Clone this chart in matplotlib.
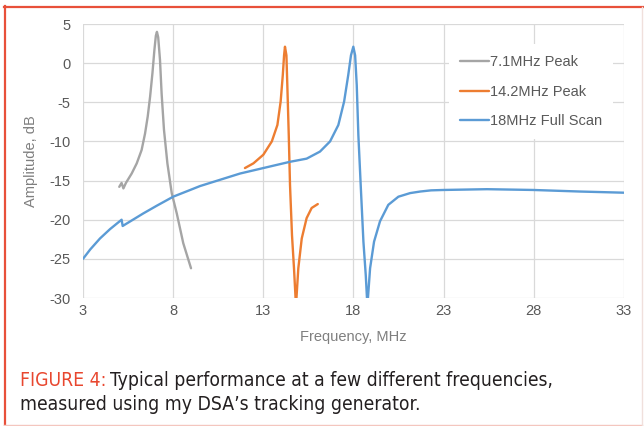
import matplotlib
matplotlib.use("Agg")
import matplotlib.pyplot as plt
from matplotlib.lines import Line2D

# ---- data ----
gray_x = [5.01, 5.14, 5.24, 5.38, 5.70, 5.98, 6.25, 6.44, 6.59, 6.72, 6.85, 6.96,
          7.04, 7.10, 7.17, 7.27, 7.36, 7.49, 7.68, 7.92, 8.20, 8.56, 8.99]
gray_y = [-15.8, -15.3, -16.0, -15.3, -14.1, -12.8, -11.1, -9.0, -6.8, -4.3, -1.3, 1.7,
          3.5, 4.0, 3.3, 0.4, -3.9, -8.5, -12.8, -16.6, -19.2, -23.0, -26.2]

orange_x = [11.98, 12.45, 13.00, 13.47, 13.78, 13.96, 14.08, 14.15, 14.20, 14.28,
            14.33, 14.41, 14.48, 14.59, 14.70, 14.81, 14.94, 15.13, 15.40, 15.68, 16.02]
orange_y = [-13.4, -12.8, -11.7, -10.0, -7.9, -4.9, -1.5, 1.0, 2.1, 1.0,
            -2.8, -9.2, -15.6, -22.0, -26.2, -31.0, -26.2, -22.4, -19.8, -18.5, -18.0]

blue_x = [3.00, 3.40, 3.94, 4.50, 5.14, 5.20, 6.34, 7.10, 8.01, 9.00, 9.49, 10.60, 11.71, 13.00,
          14.48, 15.40, 16.14, 16.70, 17.16, 17.48, 17.71, 17.86, 17.99, 18.09,
          18.18, 18.27, 18.40, 18.55, 18.68, 18.77, 18.92, 19.14, 19.47, 19.93,
          20.49, 21.14, 21.70, 22.30, 23.00, 25.40, 27.96, 30.56, 33.00]
blue_y = [-25.0, -23.8, -22.4, -21.2, -20.0, -20.8, -19.2, -18.2, -17.05, -16.15, -15.7, -14.9, -14.1, -13.4,
          -12.6, -12.2, -11.3, -10.0, -7.9, -4.9, -1.5, 1.0, 2.1, 1.0,
          -2.8, -9.2, -15.6, -22.8, -27.1, -31.0, -26.2, -22.8, -20.2, -18.1,
          -17.06, -16.6, -16.4, -16.25, -16.2, -16.1, -16.2, -16.4, -16.55]

series_labels = ["7.1MHz Peak", "14.2MHz Peak", "18MHz Full Scan"]
x_ticks = [3, 8, 13, 18, 23, 28, 33]
y_ticks = [5, 0, -5, -10, -15, -20, -25, -30]

W, H = 644, 426
plt.rcParams["font.family"] = ["Liberation Sans", "DejaVu Sans"]
plt.rcParams["axes.unicode_minus"] = False
fig = plt.figure(figsize=(W / 100, H / 100), dpi=100)
fig.patch.set_facecolor("white")

ax = fig.add_axes([83 / W, 1 - 298 / H, (624 - 83) / W, (298 - 24) / H])
ax.set_facecolor("white")

lw = 1.7
kw = dict(lw=lw, solid_capstyle="round", solid_joinstyle="round")
ax.plot(gray_x, gray_y, color="#A5A5A5", label=series_labels[0], **kw)
ax.plot(orange_x, orange_y, color="#ED7D31", label=series_labels[1], **kw)
ax.plot(blue_x, blue_y, color="#5B9BD5", label=series_labels[2], **kw)

ax.set_xlim(3, 33)
ax.set_ylim(-30, 5)
ax.set_xticks(x_ticks)
ax.set_yticks(y_ticks)
ax.grid(True, color="#D9D9D9", lw=0.9)
ax.set_axisbelow(True)
for s in ax.spines.values():
    s.set_visible(False)
ax.tick_params(length=0, labelsize=10.5, labelcolor="#595959")
ax.tick_params(axis="y", pad=9)
ax.tick_params(axis="x", pad=4)

ax.set_xlabel("Frequency, MHz", fontsize=10.5, color="#7F7F7F", labelpad=9)
ax.set_ylabel("Amplitude, dB", fontsize=10.5, color="#7F7F7F", labelpad=8)

leg = ax.legend(loc="upper left", bbox_to_anchor=(449 / W, 1 - 44 / H),
                bbox_transform=fig.transFigure, borderaxespad=0,
                frameon=True, facecolor="white", edgecolor="none", framealpha=1,
                fontsize=10.5, handlelength=2.0, handletextpad=0.05,
                labelspacing=1.08, borderpad=0.75)
for t in leg.get_texts():
    t.set_color("#595959")
leg.get_frame().set_boxstyle("square", pad=0)

# caption
cap = dict(fontsize=13.9, family=["DejaVu Sans"], stretch="condensed", va="center", ha="left")
t1 = fig.text(20 / W, 1 - 381 / H, "FIGURE 4:", color="#E8472F", **cap)
fig.canvas.draw()
bb = t1.get_window_extent()
fig.text((bb.x1 + 4) / W, 1 - 381 / H, "Typical performance at a few different frequencies,",
         color="#231F20", **cap)
fig.text(20 / W, 1 - 405 / H, "measured using my DSA\u2019s tracking generator.",
         color="#231F20", **cap)

# border
fig.add_artist(Line2D([4.5 / W, 4.5 / W], [1 - 6 / H, 1 - 425 / H], color="#E8503A", lw=1.6,
                      transform=fig.transFigure))
fig.add_artist(Line2D([4 / W, 644 / W], [1 - 6.5 / H, 1 - 6.5 / H], color="#E8503A", lw=1.6,
                      transform=fig.transFigure))
fig.add_artist(Line2D([4 / W, 642 / W], [1 - 424.5 / H, 1 - 424.5 / H], color="#F4C6BE", lw=1.0,
                      transform=fig.transFigure))
fig.add_artist(Line2D([642 / W, 642 / W], [1 - 6.5 / H, 1 - 424.5 / H], color="#F0E0DC", lw=1.0,
                      transform=fig.transFigure))

fig.savefig("out.png", dpi=100, facecolor="white")
